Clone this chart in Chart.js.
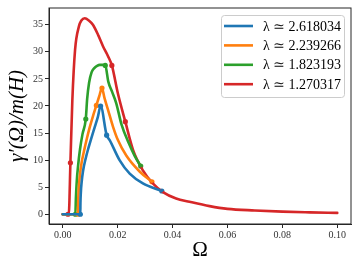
<!DOCTYPE html>
<html>
<head>
<meta charset="utf-8">
<script src="https://cdn.jsdelivr.net/npm/chart.js@4"></script>
<style>
  html, body { margin: 0; padding: 0; background: #fff; }
  #wrap { width: 360px; height: 270px; }
</style>
</head>
<body>
<div id="wrap"><canvas id="chart" width="360" height="270"></canvas></div>
<script>
// ======================================
// Data
// ======================================

const seriesLabels = ["λ ≃ 2.618034", "λ ≃ 2.239266", "λ ≃ 1.823193", "λ ≃ 1.270317"];

const blueOmega = [0, 0.0064, 0.00645, 0.0066, 0.0069, 0.0074, 0.0084, 0.0094, 0.0104, 0.0116, 0.0128, 0.0138, 0.016, 0.0171, 0.0207, 0.0244, 0.0292, 0.0361];
const blueGamma = [0, 0, 2, 4, 6, 8, 10.4, 12.3, 14, 16, 18, 20.0, 14.6, 13.7, 10, 7.5, 5.7, 4.3];

const orangeOmega = [0, 0.0055, 0.0056, 0.0058, 0.0062, 0.0069, 0.0078, 0.0088, 0.0098, 0.011, 0.01225, 0.0133, 0.0143, 0.0152, 0.0165, 0.0183, 0.0201, 0.0232, 0.028, 0.0325];
const orangeGamma = [0, 0, 2, 4.5, 7, 9.6, 11.8, 14, 16, 18.1, 20.1, 21.8, 23.3, 21.5, 19.3, 16.2, 13.7, 10.8, 7.9, 6.0];

const greenOmega = [0, 0.0046, 0.0048, 0.0051, 0.0056, 0.0063, 0.0072, 0.0084, 0.0089, 0.0096, 0.0105, 0.0115, 0.0125, 0.0135, 0.0146, 0.0155, 0.0166, 0.018, 0.0195, 0.0214, 0.024, 0.0262, 0.0284];
const greenGamma = [0, 0, 3, 6, 9, 12, 14.8, 17.6, 21.3, 24.3, 26.2, 27.0, 27.4, 27.6, 27.6, 27.5, 24.5, 22.6, 20.5, 16.6, 13.2, 10.8, 8.9];

const redOmega = [0, 0.0019, 0.0022, 0.0028, 0.0035, 0.0045, 0.0059, 0.0068, 0.008, 0.0095, 0.011, 0.013, 0.0147, 0.0165, 0.0179, 0.0201, 0.0228, 0.0256, 0.0292, 0.0328, 0.0365, 0.0413, 0.0462, 0.0535, 0.06, 0.07, 0.08, 0.09, 0.1];
const redGamma = [0, 0, 0, 9.5, 21, 30.4, 34.7, 35.8, 36.2, 35.8, 35, 33, 31, 29.2, 27.5, 22.3, 17.1, 11.9, 8.1, 5.7, 4.1, 2.9, 2.3, 1.5, 1.0, 0.7, 0.48, 0.35, 0.25];

// marked points on each curve
const blueMarkOmega = [0.0064, 0.0138, 0.016, 0.0361];
const blueMarkGamma = [0, 20.0, 14.6, 4.3];
const orangeMarkOmega = [0.0056, 0.01225, 0.0143, 0.0325];
const orangeMarkGamma = [0, 20.1, 23.3, 6.0];
const greenMarkOmega = [0.0046, 0.0084, 0.0155, 0.0284];
const greenMarkGamma = [0, 17.6, 27.5, 8.9];
const redMarkOmega = [0.0019, 0.0028, 0.0179, 0.0228];
const redMarkGamma = [0, 9.5, 27.5, 17.1];

const xTicks = [0, 0.02, 0.04, 0.06, 0.08, 0.10];
const yTicks = [0, 5, 10, 15, 20, 25, 30, 35];

const COLORS = ["#1f77b4", "#ff7f0e", "#2ca02c", "#d62728"];
const SERIF = "'Liberation Serif', 'DejaVu Serif', serif";

// ======================================
// Helpers
// ======================================

function toPoints(xs, ys) {
  return xs.map((x, i) => ({ x, y: ys[i] }));
}

function curve(label, xs, ys, color) {
  return {
    label,
    data: toPoints(xs, ys),
    showLine: true,
    borderColor: color,
    backgroundColor: color,
    borderWidth: 2.6,
    pointRadius: 0,
    cubicInterpolationMode: "monotone",
    borderCapStyle: "round",
    borderJoinStyle: "round",
  };
}

function marks(xs, ys, color) {
  return {
    label: "",
    data: toPoints(xs, ys),
    showLine: false,
    pointRadius: 2.6,
    pointBackgroundColor: color,
    pointBorderColor: color,
    pointBorderWidth: 0,
  };
}

// frame on all four sides + in-plot legend
const framePlugin = {
  id: "frame",
  afterDraw(chart) {
    const { ctx, chartArea: a } = chart;
    ctx.save();
    ctx.strokeStyle = "#262626";
    ctx.lineWidth = 1;
    ctx.strokeRect(a.left, a.top, a.right - a.left, a.bottom - a.top);

    // legend box
    const bx = 221, by = 15, bw = 123, bh = 82;
    ctx.fillStyle = "rgba(255,255,255,0.85)";
    ctx.strokeStyle = "#cccccc";
    ctx.beginPath();
    ctx.roundRect(bx + 0.5, by + 0.5, bw, bh, 3);
    ctx.fill();
    ctx.stroke();

    ctx.font = "14px " + SERIF;
    ctx.textBaseline = "middle";
    ctx.fillStyle = "#000";
    seriesLabels.forEach((label, i) => {
      const y = 26 + i * 19.4;
      ctx.strokeStyle = COLORS[i];
      ctx.lineWidth = 2.6;
      ctx.beginPath();
      ctx.moveTo(224, y);
      ctx.lineTo(253, y);
      ctx.stroke();
      ctx.fillText(label, 263, y + 1);
    });
    ctx.restore();
  },
};

// ======================================
// Chart
// ======================================

new Chart(document.getElementById("chart"), {
  type: "scatter",
  data: {
    datasets: [
      curve(seriesLabels[0], blueOmega, blueGamma, COLORS[0]),
      curve(seriesLabels[1], orangeOmega, orangeGamma, COLORS[1]),
      curve(seriesLabels[2], greenOmega, greenGamma, COLORS[2]),
      curve(seriesLabels[3], redOmega, redGamma, COLORS[3]),
      marks(blueMarkOmega, blueMarkGamma, COLORS[0]),
      marks(orangeMarkOmega, orangeMarkGamma, COLORS[1]),
      marks(greenMarkOmega, greenMarkGamma, COLORS[2]),
      marks(redMarkOmega, redMarkGamma, COLORS[3]),
    ],
  },
  options: {
    responsive: false,
    animation: false,
    events: [],
    layout: { padding: { left: 0, right: 9, top: 8, bottom: 0 } },
    plugins: {
      legend: { display: false },
      tooltip: { enabled: false },
    },
    scales: {
      x: {
        type: "linear",
        min: -0.005,
        max: 0.105,
        afterBuildTicks: (scale) => {
          scale.ticks = xTicks.map((v) => ({ value: v }));
        },
        afterFit: (scale) => {
          scale.height = 46;
        },
        grid: { drawOnChartArea: false, drawTicks: true, tickLength: 4, color: "#262626" },
        border: { display: true, color: "#262626" },
        ticks: {
          padding: 1,
          color: "#333",
          font: { family: SERIF, size: 10 },
          maxRotation: 0,
          callback: (v) => Number(v).toFixed(2),
        },
        title: {
          display: true,
          text: "Ω",
          color: "#000",
          font: { family: SERIF, size: 21 },
          padding: { top: 0, bottom: 7 },
        },
      },
      y: {
        type: "linear",
        min: -1.8,
        max: 38.1,
        afterBuildTicks: (scale) => {
          scale.ticks = yTicks.map((v) => ({ value: v }));
        },
        afterFit: (scale) => {
          scale.width = 49;
        },
        grid: { drawOnChartArea: false, drawTicks: true, tickLength: 4, color: "#262626" },
        border: { display: true, color: "#262626" },
        ticks: {
          padding: 2,
          color: "#333",
          font: { family: SERIF, size: 10 },
          callback: (v) => String(v),
        },
        title: {
          display: true,
          text: "γ′(Ω)/m(H)",
          color: "#000",
          font: { family: SERIF, size: 21, style: "italic" },
          padding: { top: 5, bottom: 0 },
        },
      },
    },
  },
  plugins: [framePlugin],
});
</script>
</body>
</html>
